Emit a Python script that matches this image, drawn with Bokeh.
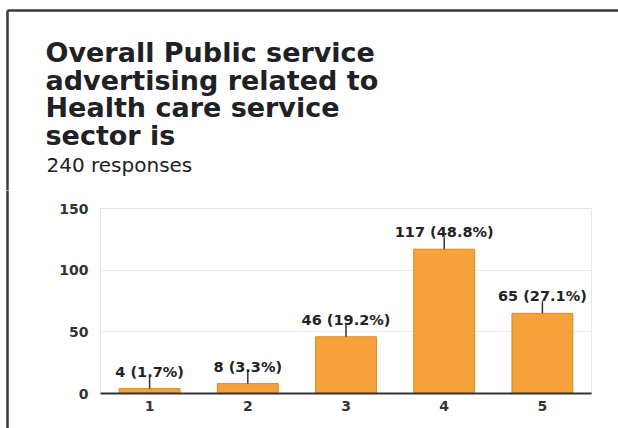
from bokeh.plotting import figure
from bokeh.layouts import column, row
from bokeh.models import ColumnDataSource, Range1d, FactorRange, FixedTicker
from bokeh.core.properties import value
from bokeh.embed import file_html
from bokeh.resources import INLINE

# ---- data ----
categories = ["1", "2", "3", "4", "5"]
counts = [4, 8, 46, 117, 65]
percents = [1.7, 3.3, 19.2, 48.8, 27.1]
y_ticks = [0, 50, 100, 150]
title_lines = ["Overall Public service", "advertising related to",
               "Health care service", "sector is"]
subtitle = "240 responses"

# ---- layout constants ----
W, H = 618, 428
HEAD_H = 190                 # header strip height
SIDE_W = 10                  # left strip carrying the card border
FL, FR, FT, FB = 100, 591, 208, 393          # chart frame edges in page px
Y_MAX = 150
px_per_unit = (FB - FT) / Y_MAX
FONT = "DejaVu Sans"
BORDER = "#3a3a3a"
BORDER_X, BORDER_Y = 7, 10


def blank(width, height, xr, yr):
    f = figure(width=width, height=height, x_range=xr, y_range=yr,
               output_backend="svg", toolbar_location=None,
               x_axis_location=None, y_axis_location=None, min_border=0)
    f.outline_line_color = None
    f.grid.visible = False
    f.background_fill_color = "white"
    f.border_fill_color = "white"
    f.frame_align = False
    return f


# ---- header: title, subtitle, card border ----
head = blank(W, HEAD_H, Range1d(0, W), Range1d(HEAD_H, 0))
head.segment(x0=[BORDER_X, BORDER_X], y0=[BORDER_Y, BORDER_Y],
             x1=[W + 5, BORDER_X], y1=[BORDER_Y, HEAD_H + 5],
             line_color=BORDER, line_width=2.5)
head.text(x=[45] * len(title_lines),
          y=[52 + 27.6 * i for i in range(len(title_lines))],
          text=title_lines, text_font=value(FONT), text_font_style="bold",
          text_font_size="27px", text_color="#202124", text_baseline="alphabetic")
head.text(x=[46], y=[164], text=[subtitle], text_font=value(FONT),
          text_font_size="20px", text_color="#202124", text_baseline="alphabetic")

# ---- left strip with card border ----
CH = H - HEAD_H
side = blank(SIDE_W, CH, Range1d(0, SIDE_W), Range1d(CH, 0))
side.segment(x0=[BORDER_X], y0=[-5], x1=[BORDER_X], y1=[CH + 5],
             line_color=BORDER, line_width=2.5)

# ---- chart ----
labels = [f"{c} ({p}%)" for c, p in zip(counts, percents)]
src = ColumnDataSource(dict(
    x=categories, top=counts, lab=labels,
    stem=[c + 12 / px_per_unit for c in counts],
))

p = figure(width=W - SIDE_W, height=CH,
           x_range=FactorRange(*categories, range_padding=0),
           y_range=Range1d(0, Y_MAX), output_backend="svg", toolbar_location=None,
           min_border_left=FL - SIDE_W, min_border_right=W - FR,
           min_border_top=FT - HEAD_H, min_border_bottom=H - FB)
p.frame_align = False
p.title.visible = False
p.background_fill_color = "white"
p.border_fill_color = "white"
p.outline_line_color = "#e6e6e6"
p.outline_line_width = 1

p.vbar(x="x", top="top", width=0.62, source=src,
       fill_color="#F5A23A", line_color="#D98B24", line_width=1)
p.segment(x0="x", y0="top", x1="x", y1="stem", source=src,
          line_color="#333333", line_width=1.5)
p.text(x="x", y="top", text="lab", source=src, y_offset=-17,
       text_align="center", text_baseline="middle",
       text_font=value(FONT), text_font_style="bold",
       text_font_size="14.5px", text_color="#222222")

p.yaxis.ticker = FixedTicker(ticks=y_ticks)
p.yaxis.axis_line_color = None
p.yaxis.major_tick_line_color = None
p.yaxis.minor_tick_line_color = None
p.yaxis.major_tick_out = 0
p.yaxis.major_tick_in = 0
p.yaxis.major_label_standoff = 12
p.yaxis.major_label_text_font = FONT
p.yaxis.major_label_text_font_style = "bold"
p.yaxis.major_label_text_font_size = "14px"
p.yaxis.major_label_text_color = "#333333"

p.xaxis.axis_line_color = "#333333"
p.xaxis.axis_line_width = 2
p.xaxis.major_tick_line_color = None
p.xaxis.major_tick_out = 0
p.xaxis.major_tick_in = 0
p.xaxis.major_label_standoff = 7
p.xaxis.major_label_text_font = FONT
p.xaxis.major_label_text_font_style = "bold"
p.xaxis.major_label_text_font_size = "14px"
p.xaxis.major_label_text_color = "#333333"

p.xgrid.grid_line_color = None
p.ygrid.ticker = FixedTicker(ticks=y_ticks)
p.ygrid.grid_line_color = "#ebebeb"
p.ygrid.grid_line_width = 1

layout = column(head, row(side, p, spacing=0), spacing=0)
open("out.html", "w").write(file_html(layout, INLINE))
